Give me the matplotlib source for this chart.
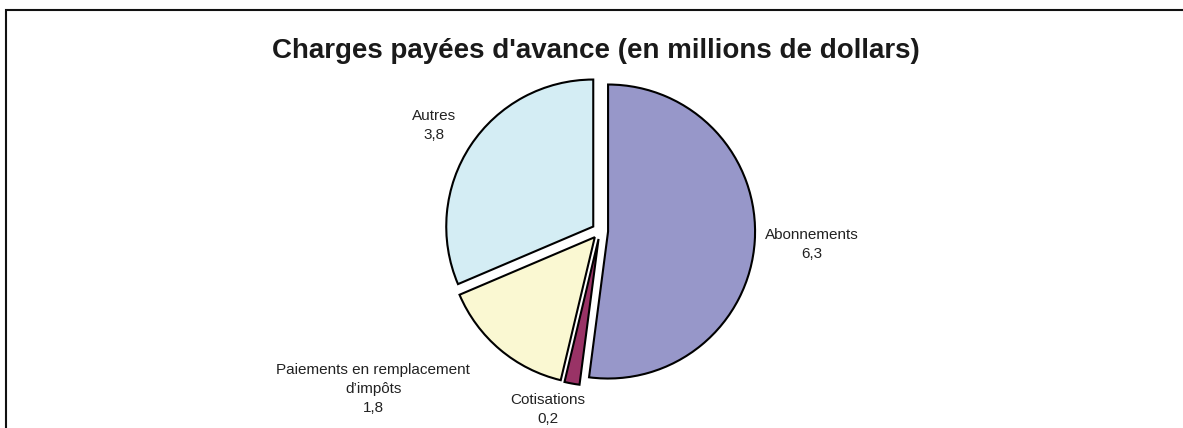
import numpy as np
import matplotlib
matplotlib.use("Agg")
import matplotlib.pyplot as plt
from matplotlib.patches import Rectangle

# =========================
# DATA
# =========================
categories = ["Abonnements", "Cotisations", "Paiements en remplacement\nd\u2019impôts", "Autres"]
values = [6.3, 0.2, 1.8, 3.8]
value_labels = ["6,3", "0,2", "1,8", "3,8"]
colors = ["#9797C9", "#993366", "#FAF8D2", "#D4EDF4"]

title = "Charges payées d'avance (en millions de dollars)"

# =========================
# LAYOUT (pixels)
# =========================
W, H = 1183, 428
cx, cy = 600, H - 231      # pie centre
R = 147                     # pie radius in px

fig = plt.figure(figsize=(W / 100, H / 100), dpi=100)
ax = fig.add_axes([0, 0, 1, 1])

wedges, _ = ax.pie(values, colors=colors, startangle=90, counterclock=False,
                   explode=[0.055] * len(values), radius=1,
                   wedgeprops=dict(edgecolor="black", linewidth=1.5))

# axes limits so that one data unit = R pixels
ax.set_xlim(-cx / R, (W - cx) / R)
ax.set_ylim(-cy / R, (H - cy) / R)
ax.set_aspect("auto")
ax.axis("off")

# label placement: distance from centre (in radii) and angle nudge (deg)
label_pos = [(1.445, 0), (1.265, -6), (1.88, -15), (1.335, 1)]
for w, cat, val, (d, nudge) in zip(wedges, categories, value_labels, label_pos):
    ang = np.deg2rad((w.theta1 + w.theta2) / 2 + nudge)
    ax.text(d * np.cos(ang), d * np.sin(ang), cat + "\n" + val,
            ha="center", va="center", fontsize=11, color="#222222",
            family=["Liberation Sans", "DejaVu Sans"], linespacing=1.45)

fig.text(596 / W, 1 - 51 / H, title, ha="center", va="center",
         fontsize=20, fontweight="bold", color="#1a1a1a",
         family=["Liberation Sans Narrow", "Liberation Sans", "DejaVu Sans"])

# frame round the chart (cut by the picture edges on the right and bottom)
fig.patches.append(Rectangle((6 / W, -0.1), 1.1, (H - 10) / H + 0.1,
                             transform=fig.transFigure, fill=False,
                             edgecolor="#111111", linewidth=1.5))

fig.savefig("out.png", dpi=100, facecolor="white")
